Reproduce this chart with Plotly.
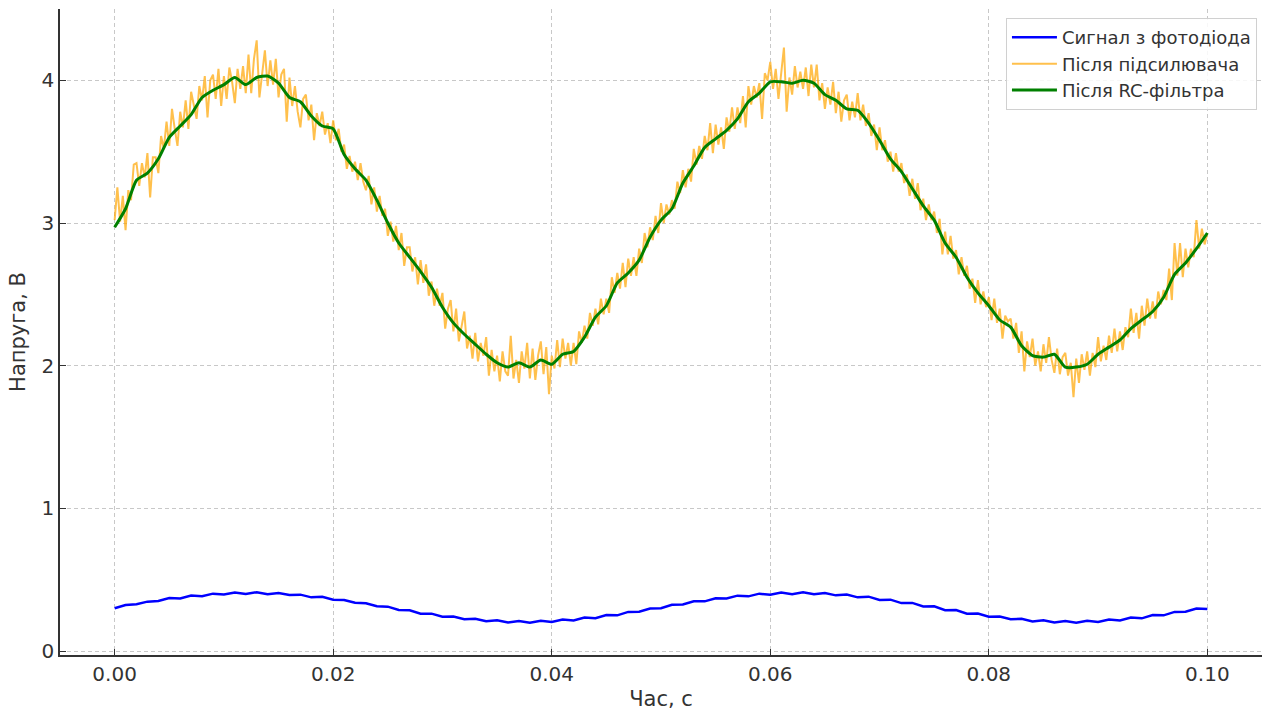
import numpy as np
import plotly.graph_objects as go

# ---- data ----
T_START, T_END = 0.0, 0.1

blue_signal = [.300,.322,.328,.346,.350,.371,.368,.389,.384,.402,.396,.410,.400,.412,.398,.406,.392,.395,.376,.380,
               .360,.358,.338,.335,.314,.311,.288,.285,.262,.262,.240,.241,.222,.226,.208,.215,.200,.210,.198,.212,
               .204,.220,.214,.234,.230,.252,.250,.274,.276,.298,.300,
               .324,.326,.348,.348,.370,.368,.388,.383,.402,.394,.410,.398,.412,.398,.407,.390,.396,.376,.381,
               .358,.360,.336,.337,.312,.313,.286,.287,.262,.263,.240,.242,.222,.226,.207,.215,.200,.210,.198,.212,
               .203,.220,.214,.234,.229,.252,.250,.274,.276,.298,.294]

amplified = [
    3.02,3.25,3.01,3.19, 2.95,3.23,3.16,3.41, 3.42,3.26,3.42,3.32, 3.49,3.18,3.46,3.46, 3.35,3.61,3.52,3.71,
    3.54,3.80,3.66,3.54, 3.78,3.67,3.86,3.66, 3.92,3.83,3.73,3.96, 3.86,4.03,3.74,4.00, 4.04,3.87,4.08,3.82,
    4.03,3.87,4.09,3.99, 3.84,4.08,3.94,4.10, 3.91,4.18,3.91,4.15, 4.28,3.88,4.07,4.21, 3.96,4.14,3.97,4.15,
    3.88,4.04,4.08,3.71, 4.02,3.82,3.96,3.78, 3.67,3.87,3.90,3.72, 3.83,3.58,3.77,3.68, 3.78,3.62,3.70,3.56,
    3.72,3.58,3.66,3.50, 3.55,3.38,3.47,3.36, 3.43,3.30,3.42,3.29, 3.23,3.33,3.13,3.25, 3.08,3.19,3.05,3.10,
    2.91,3.01,2.87,2.98, 2.81,2.93,2.70,2.83, 2.83,2.66,2.76,2.57, 2.74,2.58,2.71,2.49, 2.59,2.42,2.54,2.42,
    2.51,2.26,2.40,2.46, 2.24,2.40,2.17,2.29, 2.38,2.12,2.21,2.05, 2.23,2.03,2.16,2.07, 2.20,1.93,2.11,1.96,
    2.07,1.89,2.10,1.96, 1.93,2.21,1.91,2.04, 1.88,2.10,1.98,2.16, 1.91,2.12,1.90,2.07, 2.17,1.94,2.13,1.80,
    2.07,1.98,2.18,1.99, 2.19,2.05,2.16,2.00, 2.16,2.01,2.24,2.16, 2.28,2.19,2.37,2.28, 2.40,2.29,2.47,2.36,
    2.47,2.37,2.62,2.51, 2.65,2.54,2.72,2.55, 2.75,2.63,2.76,2.63, 2.82,2.72,2.93,2.83, 2.97,2.88,3.05,2.93,
    3.14,3.00,3.13,3.06, 3.16,3.10,3.29,3.21, 3.37,3.25,3.38,3.29, 3.52,3.41,3.54,3.45, 3.61,3.51,3.70,3.49,
    3.69,3.55,3.67,3.52, 3.74,3.64,3.81,3.66, 3.81,3.70,3.89,3.67, 3.96,3.83,3.96,3.88, 3.98,3.73,4.05,4.00,
    4.13,3.94,4.08,3.87, 4.05,4.23,3.78,4.02, 3.90,4.10,3.95,4.06, 3.94,4.09,3.89,4.11, 3.95,4.11,3.86,3.98,
    3.80,3.95,3.83,3.99, 3.77,3.92,3.71,3.86, 3.90,3.72,3.85,3.74, 3.91,3.72,3.83,3.68, 3.77,3.61,3.69,3.51,
    3.67,3.51,3.58,3.43, 3.50,3.36,3.49,3.36, 3.42,3.28,3.34,3.19, 3.31,3.17,3.28,3.09, 3.17,3.02,3.13,3.02,
    3.08,2.93,3.03,2.78, 2.94,2.78,2.91,2.75, 2.81,2.64,2.76,2.63, 2.70,2.54,2.61,2.44, 2.60,2.43,2.52,2.41,
    2.48,2.32,2.47,2.30, 2.40,2.19,2.35,2.31, 2.33,2.19,2.30,2.09, 2.24,1.96,2.17,2.06, 2.19,2.00,2.10,1.96,
    2.15,2.02,2.20,2.04, 1.95,2.12,1.94,2.06, 2.09,1.93,2.02,1.78, 2.05,1.88,2.08,1.97, 2.10,1.93,2.09,1.99,
    2.20,2.03,2.14,2.04, 2.21,2.09,2.26,2.10, 2.24,2.11,2.27,2.20, 2.40,2.23,2.37,2.19, 2.42,2.28,2.47,2.33,
    2.45,2.33,2.52,2.43, 2.53,2.46,2.68,2.46, 2.86,2.63,2.86,2.62, 2.82,2.69,2.82,2.76, 3.02,2.82,2.96,2.85,
    2.93]

filtered = [2.97,3.10,3.30,3.35,3.45,3.60,3.68,3.76,3.88,3.93,3.97,4.02,3.97,4.02,4.03,3.98,3.88,3.85,3.75,3.68,
            3.66,3.48,3.38,3.30,3.16,3.00,2.86,2.76,2.66,2.55,2.41,2.30,2.22,2.15,2.08,2.02,1.99,2.02,1.99,2.04,
            2.01,2.08,2.10,2.20,2.34,2.42,2.58,2.65,2.74,2.90,3.02,3.10,3.28,3.40,3.53,3.59,3.65,3.73,3.85,3.91,
            3.99,3.99,3.98,4.00,3.98,3.90,3.86,3.80,3.79,3.70,3.58,3.45,3.36,3.24,3.12,3.02,2.86,2.76,2.62,2.51,
            2.42,2.32,2.27,2.14,2.07,2.06,2.08,1.99,1.99,2.01,2.08,2.13,2.18,2.26,2.32,2.38,2.48,2.64,2.72,2.82,
            2.93]

names = ["Сигнал з фотодіода", "Після підсилювача", "Після RC-фільтра"]
x_ticks = [0.00, 0.02, 0.04, 0.06, 0.08, 0.10]
y_ticks = [0, 1, 2, 3, 4]

t_blue = np.linspace(T_START, T_END, len(blue_signal))
t_amp = np.linspace(T_START, T_END, len(amplified))
t_filt = np.linspace(T_START, T_END, len(filtered))

FONT = "DejaVu Sans"
TXT = "#333333"
fig = go.Figure()
fig.add_trace(go.Scatter(x=t_blue, y=blue_signal, mode="lines", name=names[0],
                         line=dict(color="#0000ff", width=2.5)))
fig.add_trace(go.Scatter(x=t_amp, y=amplified, mode="lines", name=names[1],
                         line=dict(color="rgba(255,165,0,0.7)", width=2)))
fig.add_trace(go.Scatter(x=t_filt, y=filtered, mode="lines", name=names[2],
                         line=dict(color="#008000", width=3, shape="spline", smoothing=0.6)))

axis_common = dict(showline=True, linecolor=TXT, linewidth=1.5, mirror=False,
                   ticks="inside", ticklen=6, tickwidth=1.2, tickcolor=TXT,
                   showgrid=True, gridcolor="#c8c8c8", gridwidth=1, griddash="4px,3px",
                   zeroline=False, automargin=False,
                   tickfont=dict(family=FONT, size=20, color=TXT))

fig.update_layout(
    width=1266, height=711,
    margin=dict(l=60, r=4, t=9, b=56),
    paper_bgcolor="white", plot_bgcolor="white",
    font=dict(family=FONT, color=TXT),
    xaxis=dict(range=[-0.005, 0.105], tickvals=x_ticks, tickformat=".2f",
               title=dict(text="Час, с", font=dict(family=FONT, size=21, color=TXT), standoff=8),
               **axis_common),
    yaxis=dict(range=[-0.028, 4.5], tickvals=y_ticks,
               title=dict(text="Напруга, В", font=dict(family=FONT, size=21, color=TXT), standoff=10),
               **axis_common),
    legend=dict(x=0.9958, y=0.986, xanchor="right", yanchor="top",
                bgcolor="rgba(255,255,255,0.85)", bordercolor="#d0d0d0", borderwidth=1,
                font=dict(family=FONT, size=18, color=TXT), itemwidth=45),
    showlegend=True,
)

fig.write_html("out.html", config={"displayModeBar": False},
               post_script="document.body.style.margin='0';")
